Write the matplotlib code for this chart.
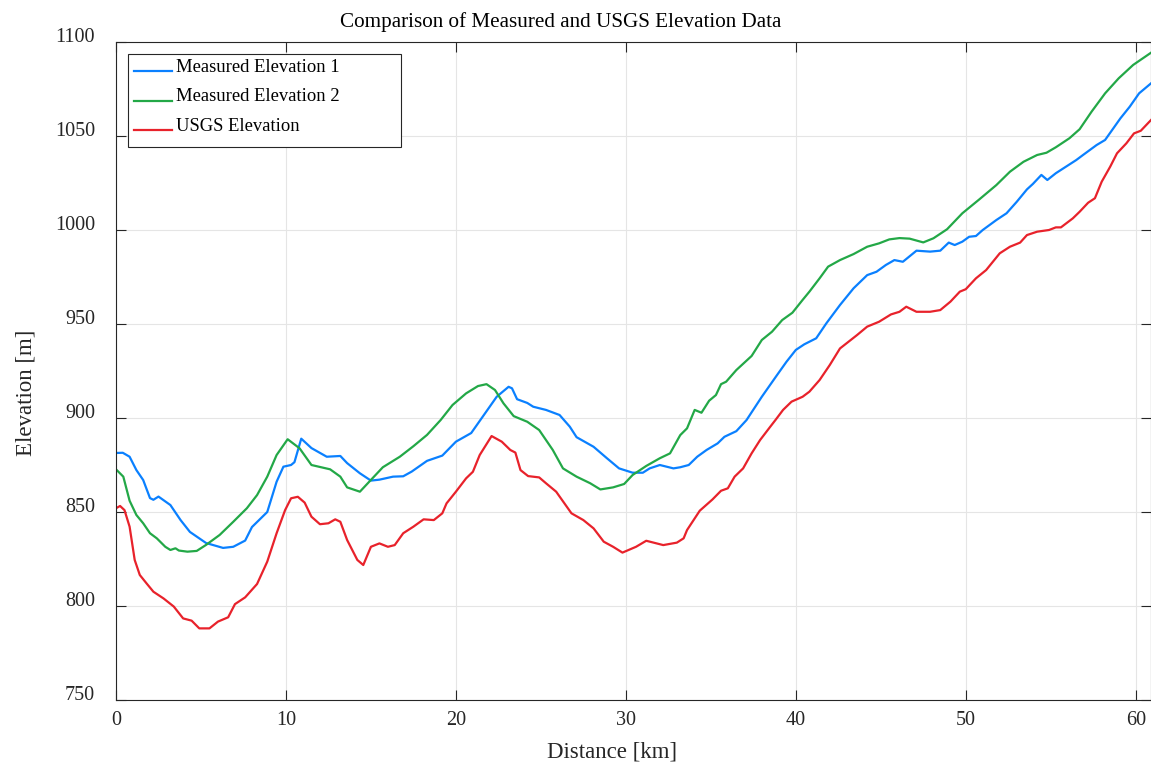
import numpy as np
import matplotlib
matplotlib.use("Agg")
import matplotlib.pyplot as plt
from matplotlib.patches import Rectangle
from matplotlib.legend_handler import HandlerLine2D

# values
dist_1 = [0.0, 0.4, 0.8, 1.2, 1.6, 2.0, 2.2, 2.5, 3.2, 3.8, 4.35, 5.3, 6.3, 6.9, 7.6, 8.0,
          8.9, 9.45, 9.85, 10.3, 10.5, 10.9, 11.5, 12.4, 13.2, 13.6, 14.35, 15.0, 15.5, 16.3,
          16.9, 17.4, 18.3, 19.2, 20.0, 20.9, 21.6, 22.4, 23.1, 23.3, 23.6, 24.2, 24.55, 25.3,
          26.1, 26.7, 27.1, 28.1, 28.9, 29.6, 30.4, 31.0, 31.4, 32.0, 32.8, 33.2, 33.7, 34.2,
          34.75, 35.4, 35.8, 36.5, 37.1, 38.0, 38.9, 39.45, 40.0, 40.5, 41.2, 41.8, 42.6, 43.4,
          44.2, 44.75, 45.3, 45.8, 46.3, 47.1, 47.9, 48.5, 49.0, 49.35, 49.8, 50.2, 50.6, 51.0,
          51.8, 52.4, 53.0, 53.6, 53.95, 54.45, 54.8, 55.3, 55.9, 56.5, 56.9, 57.7, 58.2, 59.1,
          59.65, 60.2, 60.9]
elev_1 = [881.4, 881.5, 879.4, 872.3, 867.0, 857.4, 856.5, 858.2, 853.7, 845.7, 839.4, 833.5,
          830.9, 831.5, 834.8, 842.0, 850.0, 866.1, 874.1, 875.0, 876.5, 889.0, 884.0, 879.4,
          879.8, 876.0, 870.6, 866.7, 867.2, 868.8, 869.0, 871.5, 877.2, 880.0, 887.4, 892.0,
          901.0, 911.3, 916.6, 915.8, 910.0, 908.0, 906.0, 904.3, 901.6, 895.4, 889.8, 884.7,
          878.5, 873.2, 870.9, 870.9, 873.2, 875.0, 873.2, 873.8, 875.0, 879.4, 883.0, 886.5,
          890.0, 893.0, 898.9, 911.3, 922.9, 929.9, 936.2, 939.2, 942.4, 950.4, 960.1, 969.0,
          976.0, 977.8, 981.4, 984.0, 983.1, 989.0, 988.5, 989.0, 993.3, 992.0, 993.8, 996.4,
          996.8, 1000.0, 1005.3, 1008.9, 1015.0, 1021.6, 1024.5, 1029.3, 1026.6, 1030.2,
          1033.7, 1037.2, 1039.9, 1045.2, 1047.9, 1059.4, 1065.6, 1072.7, 1078.0]

dist_2 = [0.0, 0.43, 0.8, 1.2, 1.6, 2.0, 2.4, 2.9, 3.2, 3.5, 3.7, 4.2, 4.75, 5.3, 6.1, 6.9,
          7.7, 8.3, 8.9, 9.45, 10.1, 10.8, 11.5, 12.6, 13.2, 13.6, 14.35, 14.9, 15.7, 16.7,
          17.5, 18.3, 19.1, 19.8, 20.6, 21.3, 21.8, 22.3, 22.8, 23.4, 24.2, 24.9, 25.7, 26.3,
          27.1, 27.9, 28.5, 29.25, 29.9, 30.4, 31.2, 32.0, 32.6, 33.2, 33.6, 34.05, 34.45,
          34.9, 35.3, 35.6, 35.9, 36.5, 37.4, 38.0, 38.6, 39.2, 39.8, 40.4, 40.8, 41.4, 41.9,
          42.6, 43.4, 44.2, 44.9, 45.5, 46.1, 46.7, 47.5, 48.1, 48.9, 49.8, 50.8, 51.8, 52.6,
          53.4, 54.2, 54.75, 55.3, 56.1, 56.7, 57.4, 58.2, 59.0, 59.85, 60.9]
elev_2 = [872.7, 868.8, 856.0, 848.4, 844.0, 838.7, 836.0, 831.5, 829.8, 830.7, 829.5, 828.9,
          829.3, 832.5, 837.8, 844.8, 852.0, 859.0, 868.8, 880.3, 888.7, 883.9, 875.0, 872.7,
          868.8, 863.1, 860.8, 866.1, 873.8, 879.4, 885.0, 891.0, 898.9, 906.9, 913.1, 917.0,
          918.0, 914.9, 907.8, 901.0, 898.0, 893.6, 883.0, 873.2, 868.8, 865.3, 862.0, 863.1,
          864.9, 869.7, 874.5, 878.6, 881.2, 890.9, 894.5, 904.3, 902.8, 909.2, 912.2, 918.0,
          919.3, 925.5, 933.0, 941.5, 945.9, 952.1, 956.0, 962.8, 967.2, 974.3, 980.5, 984.0,
          987.2, 991.1, 992.9, 995.0, 995.7, 995.4, 993.4, 995.6, 1000.4, 1008.9, 1016.3,
          1023.9, 1031.0, 1036.3, 1039.9, 1041.1, 1044.0, 1048.8, 1053.6, 1062.9, 1072.7,
          1080.7, 1087.8, 1094.3]

dist_usgs = [0.0, 0.24, 0.5, 0.8, 1.1, 1.4, 1.8, 2.2, 2.8, 3.4, 3.95, 4.45, 4.9, 5.5, 6.0,
             6.6, 7.0, 7.6, 8.3, 8.9, 9.45, 9.95, 10.3, 10.7, 11.1, 11.5, 12.0, 12.5, 12.9,
             13.2, 13.6, 14.2, 14.55, 15.0, 15.5, 16.0, 16.4, 16.9, 17.5, 18.1, 18.7, 19.2,
             19.45, 20.0, 20.6, 21.0, 21.4, 22.1, 22.7, 23.2, 23.5, 23.8, 24.25, 24.9, 25.3,
             25.9, 26.8, 27.5, 28.1, 28.7, 29.25, 29.8, 30.6, 31.2, 32.2, 33.0, 33.4, 33.6,
             34.35, 35.1, 35.6, 36.0, 36.4, 36.9, 37.4, 37.9, 38.5, 38.8, 39.25, 39.75, 40.4,
             40.8, 41.4, 42.0, 42.6, 43.6, 44.2, 44.9, 45.6, 46.1, 46.5, 47.1, 47.9, 48.5,
             49.1, 49.65, 50.0, 50.6, 51.2, 52.0, 52.6, 53.2, 53.6, 54.2, 54.9, 55.3, 55.6,
             56.3, 56.7, 57.2, 57.6, 58.0, 58.5, 58.9, 59.45, 59.9, 60.3, 60.9]
elev_usgs = [852.0, 853.2, 851.0, 842.2, 824.5, 816.5, 812.0, 807.6, 804.0, 799.7, 793.4,
             792.2, 788.1, 788.1, 791.7, 794.0, 801.0, 804.6, 811.7, 823.6, 838.7, 851.0,
             857.3, 858.1, 855.0, 847.5, 843.5, 844.0, 846.1, 844.8, 835.1, 824.5, 821.8,
             831.5, 833.3, 831.5, 832.4, 838.7, 842.2, 846.1, 845.7, 849.3, 854.6, 860.8,
             867.9, 871.4, 880.3, 890.4, 887.4, 883.0, 881.6, 872.3, 869.1, 868.4, 865.3,
             860.8, 849.3, 845.7, 841.3, 834.2, 831.5, 828.4, 831.5, 834.7, 832.4, 833.7,
             836.0, 840.4, 850.7, 856.7, 861.3, 862.6, 868.8, 873.2, 881.2, 888.3, 895.4,
             898.9, 904.3, 908.7, 911.3, 914.0, 920.2, 928.2, 937.0, 944.1, 948.6, 951.2,
             955.1, 956.5, 959.2, 956.5, 956.5, 957.4, 961.9, 967.2, 968.5, 974.3, 978.7,
             987.6, 991.1, 993.3, 997.3, 999.1, 1000.0, 1001.4, 1001.4, 1006.2, 1009.7,
             1014.5, 1016.9, 1025.7, 1033.7, 1040.8, 1046.1, 1051.4, 1052.8, 1058.5]

series_labels = ["Measured Elevation 1", "Measured Elevation 2", "USGS Elevation"]
x_ticks = [0, 10, 20, 30, 40, 50, 60]
y_ticks = [750, 800, 850, 900, 950, 1000, 1050, 1100]


class BaselineLine(HandlerLine2D):
    # legend sample sits on the text baseline, not its middle
    def create_artists(self, legend, orig_handle, xdescent, ydescent, width, height,
                       fontsize, trans):
        arts = super().create_artists(legend, orig_handle, xdescent, ydescent, width,
                                      height, fontsize, trans)
        for a in arts:
            a.set_ydata(np.asarray(a.get_ydata()) - 4.3)
        return arts


plt.rcParams['font.family'] = ['Liberation Serif', 'DejaVu Serif']

fig = plt.figure(figsize=(11.51, 7.67), dpi=100)
ax = fig.add_axes([116 / 1151, 67 / 767, 1035 / 1151, 658 / 767])

ax.plot(dist_1, elev_1, color='#0a80ff', lw=1.6, label=series_labels[0])
ax.plot(dist_2, elev_2, color='#23a847', lw=1.6, label=series_labels[1])
ax.plot(dist_usgs, elev_usgs, color='#e8222b', lw=1.6, label=series_labels[2])

ax.set_xlim(0, 60.9)
ax.set_ylim(750, 1100)
ax.set_xticks(x_ticks)
ax.set_yticks(y_ticks)
ax.grid(True, color='#e5e5e5', lw=0.8)
ax.set_axisbelow(True)

ax.tick_params(direction='in', length=7, width=0.8, top=True, right=True,
               labelsize=14.5, colors='#262626')
ax.tick_params(axis='x', pad=8)
ax.tick_params(axis='y', pad=15)
plt.setp(ax.get_yticklabels(), va='baseline')
for sp in ax.spines.values():
    sp.set_color('#262626')
    sp.set_linewidth(0.8)

ax.set_xlabel('Distance [km]', fontsize=16.5, color='#262626', labelpad=8)
ax.set_ylabel('Elevation [m]', fontsize=16.5, color='#262626', labelpad=13)
ax.xaxis.label.set_x(0.479)
ax.yaxis.label.set_y(0.4666)
ax.set_title('Comparison of Measured and USGS Elevation Data', fontsize=15.2, pad=11, x=0.43)

# legend box drawn by hand so it can be wider than its text
ax.add_patch(Rectangle((12 / 1035, 553 / 658), 273 / 1035, 93 / 658, transform=ax.transAxes,
                       facecolor='white', edgecolor='#262626', lw=0.8, zorder=4))
leg = ax.legend(loc='upper left', bbox_to_anchor=(16 / 1035, 643 / 658), borderaxespad=0,
                fontsize=13.4, frameon=False, handlelength=2.05, handletextpad=0.2,
                labelspacing=0.67, borderpad=0.1,
                handler_map={plt.Line2D: BaselineLine()})
leg.set_zorder(5)

fig.savefig('out.png', dpi=100)
